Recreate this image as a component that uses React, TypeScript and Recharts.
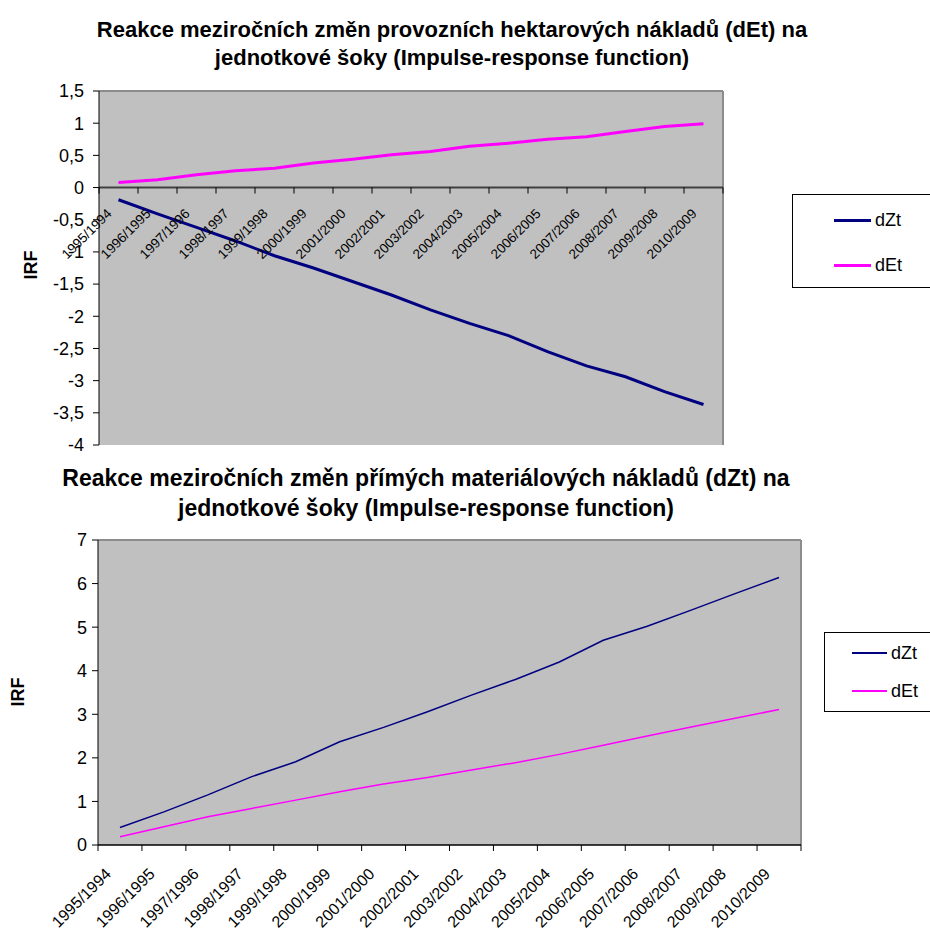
import {
  CartesianGrid,
  Legend,
  Line,
  LineChart,
  ReferenceDot,
  ReferenceLine,
  XAxis,
  YAxis,
} from 'recharts'

const FONT = '"Liberation Sans", Arial, sans-serif'

const CATEGORIES = [
  '1995/1994',
  '1996/1995',
  '1997/1996',
  '1998/1997',
  '1999/1998',
  '2000/1999',
  '2001/2000',
  '2002/2001',
  '2003/2002',
  '2004/2003',
  '2005/2004',
  '2006/2005',
  '2007/2006',
  '2008/2007',
  '2009/2008',
  '2010/2009',
]

// response of operating costs per hectare (dEt)
const COST_DZT = [-0.19, -0.41, -0.62, -0.83, -1.06, -1.25, -1.46, -1.67, -1.9, -2.11, -2.3, -2.55, -2.77, -2.94, -3.17, -3.37]
const COST_DET = [0.08, 0.12, 0.2, 0.26, 0.3, 0.38, 0.44, 0.51, 0.56, 0.64, 0.69, 0.75, 0.79, 0.87, 0.95, 0.99]
const COST_TICKS = [-4, -3.5, -3, -2.5, -2, -1.5, -1, -0.5, 0, 0.5, 1, 1.5]

// response of direct material costs (dZt)
const MATERIAL_DZT = [0.4, 0.76, 1.15, 1.57, 1.91, 2.37, 2.7, 3.06, 3.44, 3.8, 4.2, 4.7, 5.02, 5.39, 5.77, 6.14]
const MATERIAL_DET = [0.19, 0.42, 0.65, 0.84, 1.03, 1.22, 1.4, 1.55, 1.72, 1.89, 2.08, 2.29, 2.5, 2.71, 2.91, 3.11]
const MATERIAL_TICKS = [0, 1, 2, 3, 4, 5, 6, 7]

const SERIES = [
  { key: 'dZt', color: '#000080' },
  { key: 'dEt', color: '#ff00ff' },
]
const SERIES_ORDER = SERIES.map((s) => s.key)

const buildRows = (dZt: number[], dEt: number[]) =>
  CATEGORIES.map((label, idx) => ({ idx, label, dZt: dZt[idx], dEt: dEt[idx] }))

const X_DOMAIN = [-0.5, CATEGORIES.length - 0.5]
const BOUNDARIES = [...CATEGORIES.map((_, i) => i - 0.5), CATEGORIES.length - 0.5]

const commaNumber = (v: number) => String(v).replace('.', ',')

type PanelProps = {
  top: number
  height: number
  title: string[]
  titleX: number
  titleY: number[]
  titleSize: number
  irf: { x: number; y: number }
  margin: { top: number; right: number; bottom: number; left: number }
  yWidth: number
  yTickMargin: number
  ticks: number[]
  rows: Array<{ idx: number; label: string; dZt: number; dEt: number }>
  lineWidth: number
  xFont: number
  labelShift: { dx: number; dy: number }
  zero: { stroke: string; width: number }
  legend: { left: number; top: number; height: number; firstY: number; gap: number; lineLeft: number; lineLen: number }
}

function IrfPanel(p: PanelProps) {
  const yMin = p.ticks[0]
  const yMax = p.ticks[p.ticks.length - 1]

  const renderLegend = ({ payload }: any) => {
    const items = [...(payload || [])].sort(
      (a: any, b: any) => SERIES_ORDER.indexOf(a.value) - SERIES_ORDER.indexOf(b.value),
    )
    return (
      <div
        style={{
          position: 'relative',
          width: 200,
          height: p.legend.height,
          border: '1px solid #000',
          boxSizing: 'border-box',
          background: '#fff',
          fontFamily: FONT,
        }}
      >
        {items.map((entry: any, i: number) => (
          <div
            key={entry.value}
            style={{
              position: 'absolute',
              left: p.legend.lineLeft,
              top: p.legend.firstY + i * p.legend.gap - 11,
              height: 22,
              display: 'flex',
              alignItems: 'center',
            }}
          >
            <span style={{ width: p.legend.lineLen, height: p.lineWidth, background: entry.color }} />
            <span style={{ marginLeft: 4, fontSize: 18, color: '#000' }}>{entry.value}</span>
          </div>
        ))}
      </div>
    )
  }

  return (
    <div style={{ position: 'absolute', left: 0, top: p.top, width: 930, height: p.height }}>
      {p.title.map((line, i) => (
        <div
          key={line}
          style={{
            position: 'absolute',
            left: p.titleX - 450,
            width: 900,
            top: p.titleY[i] - 15,
            height: 30,
            lineHeight: '30px',
            textAlign: 'center',
            fontSize: p.titleSize,
            fontWeight: 'bold',
            color: '#000',
            whiteSpace: 'nowrap',
          }}
        >
          {line}
        </div>
      ))}
      <div
        style={{
          position: 'absolute',
          left: p.irf.x - 30,
          top: p.irf.y - 12,
          width: 60,
          height: 24,
          lineHeight: '24px',
          textAlign: 'center',
          fontSize: 18,
          fontWeight: 'bold',
          transform: 'rotate(-90deg)',
        }}
      >
        IRF
      </div>
      <LineChart width={930} height={p.height} data={p.rows} margin={p.margin}>
        <CartesianGrid fill="#c0c0c0" stroke="none" horizontal={false} vertical={false} />
        <XAxis type="number" dataKey="idx" domain={X_DOMAIN} hide />
        <YAxis
          type="number"
          domain={[yMin, yMax]}
          ticks={p.ticks}
          interval={0}
          width={p.yWidth}
          tickFormatter={commaNumber}
          tick={{ fontSize: 18, fill: '#000' }}
          tickSize={6}
          tickMargin={p.yTickMargin}
          axisLine={{ stroke: '#000' }}
          tickLine={{ stroke: '#000' }}
        />
        <ReferenceLine y={yMax} stroke="#8c8c8c" strokeWidth={2} />
        <ReferenceLine x={X_DOMAIN[1]} stroke="#8c8c8c" strokeWidth={2} />
        <ReferenceLine y={0} stroke={p.zero.stroke} strokeWidth={p.zero.width} />
        {BOUNDARIES.map((b) => (
          <ReferenceDot
            key={`tick-${b}`}
            x={b}
            y={0}
            ifOverflow="visible"
            shape={(d: any) => (
              <line x1={d.cx} y1={d.cy} x2={d.cx} y2={d.cy + 6} stroke="#000" strokeWidth={1} />
            )}
          />
        ))}
        {p.rows.map((row) => (
          <ReferenceDot
            key={`label-${row.label}`}
            x={row.idx}
            y={0}
            ifOverflow="visible"
            shape={(d: any) => {
              const tx = d.cx + p.labelShift.dx
              const ty = d.cy + p.labelShift.dy
              return (
                <text
                  x={tx}
                  y={ty}
                  textAnchor="end"
                  fontSize={p.xFont}
                  fill="#000"
                  transform={`rotate(-45 ${tx} ${ty})`}
                >
                  {row.label}
                </text>
              )
            }}
          />
        ))}
        <Legend
          layout="vertical"
          align="center"
          verticalAlign="middle"
          content={renderLegend}
          wrapperStyle={{ left: p.legend.left, top: p.legend.top, width: 200, height: p.legend.height }}
        />
        {SERIES.map((s) => (
          <Line
            key={s.key}
            type="linear"
            dataKey={s.key}
            name={s.key}
            stroke={s.color}
            strokeWidth={p.lineWidth}
            dot={false}
            activeDot={false}
            legendType="line"
            isAnimationActive={false}
          />
        ))}
      </LineChart>
    </div>
  )
}

export default function App() {
  return (
    <div
      style={{
        position: 'absolute',
        left: 0,
        top: 0,
        width: 930,
        height: 933,
        overflow: 'hidden',
        background: '#fff',
        fontFamily: FONT,
      }}
    >
      <IrfPanel
        top={0}
        height={458}
        title={[
          'Reakce meziročních změn provozních hektarových nákladů (dEt) na',
          'jednotkové šoky (Impulse-response function)',
        ]}
        titleX={452}
        titleY={[30, 58]}
        titleSize={22}
        irf={{ x: 31, y: 265 }}
        margin={{ top: 91, right: 207, bottom: 13, left: 0 }}
        yWidth={99}
        yTickMargin={9}
        ticks={COST_TICKS}
        rows={buildRows(COST_DZT, COST_DET)}
        lineWidth={3}
        xFont={13.5}
        labelShift={{ dx: -6, dy: 27 }}
        zero={{ stroke: '#404040', width: 2 }}
        legend={{ left: 792, top: 194, height: 94, firstY: 25, gap: 45, lineLeft: 41, lineLen: 37 }}
      />
      <IrfPanel
        top={455}
        height={478}
        title={[
          'Reakce meziročních změn přímých materiálových nákladů (dZt) na',
          'jednotkové šoky (Impulse-response function)',
        ]}
        titleX={426}
        titleY={[23, 53]}
        titleSize={23}
        irf={{ x: 18, y: 237 }}
        margin={{ top: 85, right: 129, bottom: 88, left: 0 }}
        yWidth={98}
        yTickMargin={5}
        ticks={MATERIAL_TICKS}
        rows={buildRows(MATERIAL_DZT, MATERIAL_DET)}
        lineWidth={1.5}
        xFont={16}
        labelShift={{ dx: -8, dy: 30 }}
        zero={{ stroke: '#000', width: 1.5 }}
        legend={{ left: 824, top: 177, height: 80, firstY: 20, gap: 38, lineLeft: 27, lineLen: 35 }}
      />
    </div>
  )
}
